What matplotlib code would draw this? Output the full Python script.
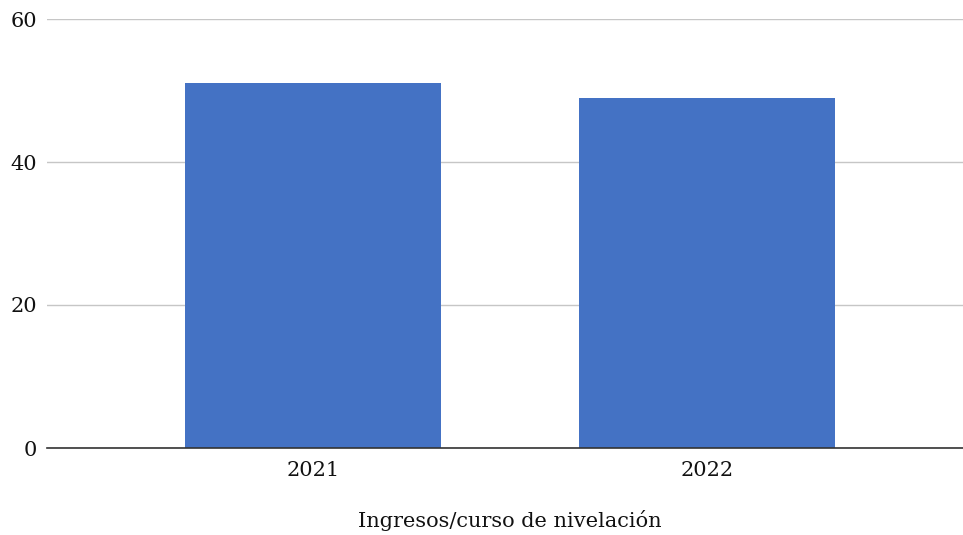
import matplotlib.pyplot as plt

categories = ['2021', '2022']
values = [51, 49]
xlabel = 'Ingresos/curso de nivelación'

plt.rcParams['font.family'] = ['DejaVu Serif']

fig = plt.figure(figsize=(9.63, 5.35), dpi=100)
ax = fig.add_axes([47 / 963, 1 - 448 / 535, 916 / 963, 429 / 535])

x = list(range(len(categories)))
ax.bar(x, values, width=0.65, color='#4472C4', zorder=3)

ax.set_ylim(0, 60)
ax.set_yticks([0, 20, 40, 60])
ax.set_xlim(-0.675, 1.65)
ax.set_xticks(x)
ax.set_xticklabels(categories)
ax.tick_params(axis='both', length=0, labelsize=15, colors='#111111')
ax.tick_params(axis='y', pad=7)
ax.tick_params(axis='x', pad=9)

ax.grid(axis='y', color='#c6c6c6', linewidth=1, zorder=0)
for side in ['top', 'right', 'left']:
    ax.spines[side].set_visible(False)
ax.spines['bottom'].set_color('#333333')
ax.spines['bottom'].set_linewidth(1.2)
ax.spines['bottom'].set_zorder(4)

ax.set_xlabel(xlabel, fontsize=15, color='#111111')
ax.xaxis.set_label_coords(0.5055, -0.145)

fig.savefig('out.png', dpi=100)
